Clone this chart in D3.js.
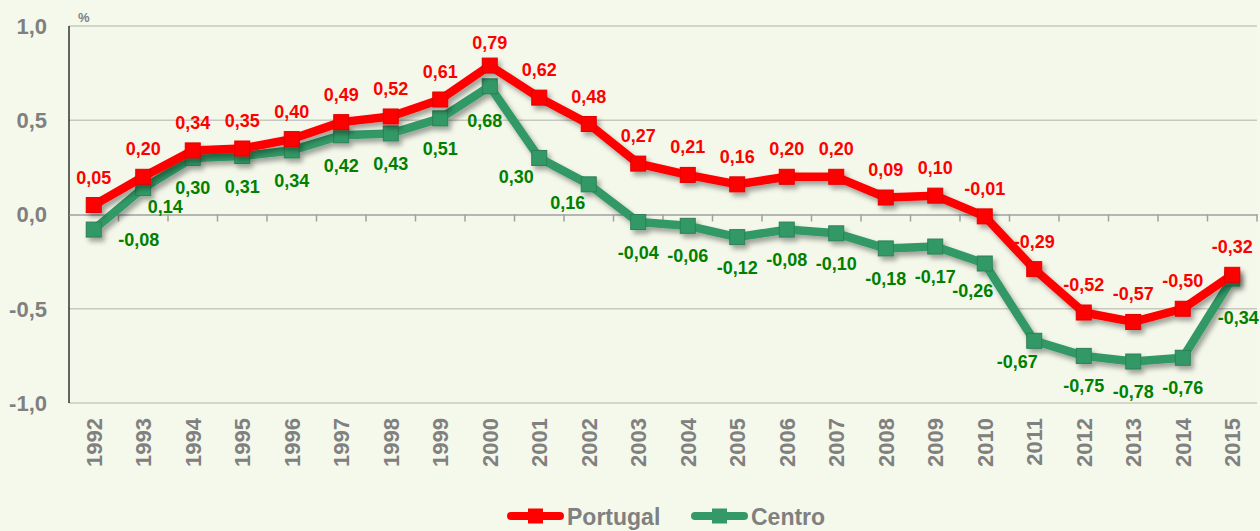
<!DOCTYPE html>
<html>
<head>
<meta charset="utf-8">
<script src="https://cdn.jsdelivr.net/npm/d3@7/dist/d3.min.js"></script>
<style>
  html, body { margin: 0; padding: 0; background: #f5f9eb; }
  svg { display: block; font-family: Arial, "Liberation Sans", sans-serif; font-weight: bold; }
</style>
</head>
<body>
<svg id="chart" width="1260" height="531"></svg>
<script>
// Annual change (%) by year
const years = ["1992","1993","1994","1995","1996","1997","1998","1999","2000","2001","2002","2003",
               "2004","2005","2006","2007","2008","2009","2010","2011","2012","2013","2014","2015"];
const portugal = [0.05, 0.20, 0.34, 0.35, 0.40, 0.49, 0.52, 0.61, 0.79, 0.62, 0.48, 0.27,
                  0.21, 0.16, 0.20, 0.20, 0.09, 0.10, -0.01, -0.29, -0.52, -0.57, -0.50, -0.32];
const centro = [-0.08, 0.14, 0.30, 0.31, 0.34, 0.42, 0.43, 0.51, 0.68, 0.30, 0.16, -0.04,
                -0.06, -0.12, -0.08, -0.10, -0.18, -0.17, -0.26, -0.67, -0.75, -0.78, -0.76, -0.34];
const yTicks = [1.0, 0.5, 0.0, -0.5, -1.0];
const seriesNames = ["Portugal", "Centro"];

const fmt = v => d3.format(".2f")(v).replace(".", ",").replace("−", "-");
const fmtTick = v => d3.format(".1f")(v).replace(".", ",").replace("−", "-");

const svg = d3.select("#chart");
const plotL = 69, plotR = 1257, plotT = 26, plotB = 403;

const x = d3.scaleBand().domain(years).range([plotL, plotR]);
const y = d3.scaleLinear().domain([-1, 1]).range([plotB, plotT]);
const cx = d => x(d) + x.bandwidth() / 2;

const defs = svg.append("defs");
const sh = defs.append("filter").attr("id", "shadow")
  .attr("x", "-10%").attr("y", "-10%").attr("width", "120%").attr("height", "130%");
sh.append("feDropShadow").attr("dx", 3).attr("dy", 4).attr("stdDeviation", 2.5)
  .attr("flood-color", "#000").attr("flood-opacity", 0.35);

// plot background
svg.append("rect").attr("x", plotL).attr("y", plotT).attr("width", plotR - plotL).attr("height", plotB - plotT)
  .attr("fill", "#f4f8ea");

// horizontal gridlines
svg.append("g").selectAll("line").data(yTicks.filter(v => v !== 0)).join("line")
  .attr("x1", plotL).attr("x2", plotR)
  .attr("y1", d => y(d)).attr("y2", d => y(d))
  .attr("stroke", "#c8c8c0").attr("stroke-width", 1.5);

// y tick labels
svg.append("g").selectAll("text").data(yTicks).join("text")
  .attr("x", 47).attr("y", d => y(d)).attr("dy", "0.36em")
  .attr("text-anchor", "end").attr("font-size", 22).attr("fill", "#808080")
  .text(fmtTick);

svg.append("text").attr("x", 78).attr("y", 22).attr("font-size", 13).attr("fill", "#808080").text("%");

// y axis line
svg.append("line").attr("x1", plotL).attr("x2", plotL).attr("y1", plotT).attr("y2", plotB)
  .attr("stroke", "#000").attr("stroke-width", 1.2);

// x axis on zero line, ticks between categories
const xAxis = d3.axisBottom(x).tickSize(0).tickFormat("");
const gx = svg.append("g").attr("transform", `translate(0,${y(0)})`).call(xAxis);
gx.select(".domain").attr("stroke", "#a0a0a0").attr("stroke-width", 1.5);
svg.append("g").selectAll("line").data(years).join("line")
  .attr("x1", d => x(d) + x.step()).attr("x2", d => x(d) + x.step())
  .attr("y1", y(0)).attr("y2", y(0) + 7)
  .attr("stroke", "#a0a0a0").attr("stroke-width", 1.5);

// year labels, rotated
svg.append("g").selectAll("text").data(years).join("text")
  .attr("transform", d => `translate(${cx(d) + 8},${plotB + 15}) rotate(-90)`)
  .attr("text-anchor", "end").attr("font-size", 22).attr("fill", "#808080")
  .text(d => d);

const line = d3.line().x((d, i) => cx(years[i])).y(d => y(d));

function drawSeries(values, color, edge) {
  const g = svg.append("g").attr("filter", "url(#shadow)");
  g.append("path").datum(values).attr("d", line)
    .attr("fill", "none").attr("stroke", color).attr("stroke-width", 8.5).attr("stroke-linejoin", "round");
  g.selectAll("rect").data(values).join("rect")
    .attr("x", (d, i) => cx(years[i]) - 7.5).attr("y", d => y(d) - 7.5)
    .attr("width", 15).attr("height", 15)
    .attr("fill", color).attr("stroke", edge).attr("stroke-width", 1);
}

drawSeries(centro, "#339966", "#2b7f55");
drawSeries(portugal, "#ff0000", "#e00000");

// value labels (positioned by their vertical centre)
svg.append("g").selectAll("text").data(portugal).join("text")
  .attr("x", (d, i) => cx(years[i]))
  .attr("y", d => Math.max(y(d) - 28, 43)).attr("dy", "0.36em")
  .attr("text-anchor", "middle").attr("font-size", 18).attr("fill", "#ff0000")
  .text(fmt);

// label placement for Centro: [dx, dy] from the point; default sits below it
const centroShift = { 0: [45, 10], 1: [22, 18], 8: [-5, 34], 9: [-23, 19], 10: [-21, 18],
                      18: [-12, 27], 19: [-17, 21], 23: [6, 39] };
svg.append("g").selectAll("text").data(centro).join("text")
  .attr("x", (d, i) => cx(years[i]) + (centroShift[i] ? centroShift[i][0] : 0))
  .attr("y", (d, i) => y(d) + (centroShift[i] ? centroShift[i][1] : 30)).attr("dy", "0.36em")
  .attr("text-anchor", "middle").attr("font-size", 18).attr("fill", "#008000")
  .text(fmt);

// legend
const legend = [
  { name: seriesNames[0], color: "#ff0000", x0: 507 },
  { name: seriesNames[1], color: "#339966", x0: 691 }
];
const lg = svg.append("g");
legend.forEach(l => {
  lg.append("line").attr("x1", l.x0 + 4).attr("x2", l.x0 + 53).attr("y1", 516).attr("y2", 516)
    .attr("stroke", l.color).attr("stroke-width", 8).attr("stroke-linecap", "round");
  lg.append("rect").attr("x", l.x0 + 21).attr("y", 508.5).attr("width", 15).attr("height", 15).attr("fill", l.color);
  lg.append("text").attr("x", l.x0 + 60).attr("y", 524.5).attr("font-size", 23).attr("fill", "#808080").text(l.name);
});
</script>
</body>
</html>
